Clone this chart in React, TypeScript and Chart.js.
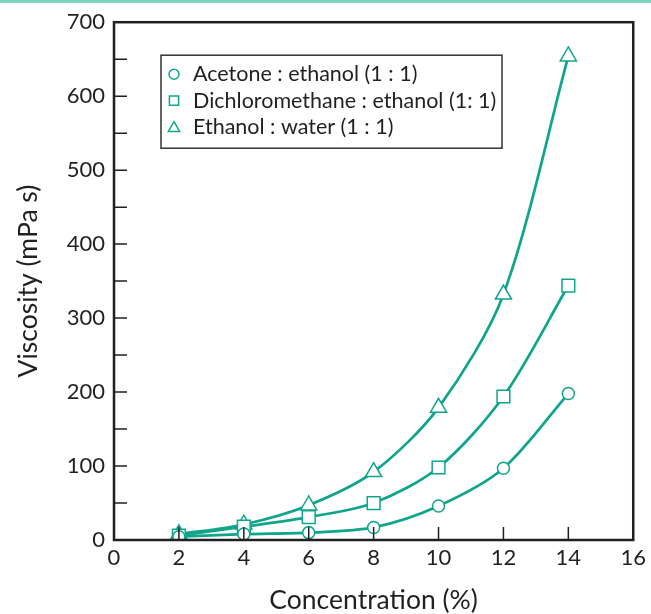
import React, { useEffect, useRef } from "react";
import { Chart, registerables } from "chart.js";

Chart.register(...registerables);

const concentrations = [2, 4, 6, 8, 10, 12, 14];
const acetoneEthanol = [4.5, 8, 10, 17, 46, 97, 198];
const dichloromethaneEthanol = [6, 18, 31, 50, 98, 194, 344];
const ethanolWater = [8, 21, 47, 92, 179, 332, 654];

const seriesNames = [
  "Acetone : ethanol (1 : 1)",
  "Dichloromethane : ethanol (1: 1)",
  "Ethanol : water (1 : 1)",
];
const seriesShapes = ["circle", "rect", "triangle"];
const seriesRadii = [6, 9, 9.3];

const xTicks = [0, 2, 4, 6, 8, 10, 12, 14, 16];
const yLabelTicks = [0, 100, 200, 300, 400, 500, 600, 700];

const TEAL = "#0fa58a";
const INK = "#231f20";
const FONT = "Lato";

function drawMarker(ctx: CanvasRenderingContext2D, shape: string, x: number, y: number, r: number) {
  ctx.beginPath();
  if (shape === "circle") {
    ctx.arc(x, y, r, 0, Math.PI * 2);
  } else if (shape === "rect") {
    ctx.rect(x - r, y - r, 2 * r, 2 * r);
  } else {
    const h = r * 1.5;
    const w = r * Math.sqrt(3);
    ctx.moveTo(x, y - r);
    ctx.lineTo(x + w / 2, y - r + h);
    ctx.lineTo(x - w / 2, y - r + h);
    ctx.closePath();
  }
  ctx.fillStyle = "#fff";
  ctx.fill();
  ctx.stroke();
}

const framePlugin = {
  id: "frameTicksLegend",
  afterDatasetsDraw(chart: any) {
    const { ctx, chartArea } = chart;
    const { left, right, top, bottom } = chartArea;
    const xs = chart.scales.x;
    const ys = chart.scales.y;
    ctx.save();
    ctx.strokeStyle = INK;
    ctx.lineWidth = 2.5;
    ctx.strokeRect(left, top, right - left, bottom - top);
    ctx.lineWidth = 1.5;
    ctx.beginPath();
    for (let v = 50; v < 700; v += 50) {
      const py = ys.getPixelForValue(v);
      ctx.moveTo(left, py);
      ctx.lineTo(left + 13, py);
    }
    for (const v of xTicks) {
      if (v === 0 || v === 16) continue;
      const px = xs.getPixelForValue(v);
      ctx.moveTo(px, bottom);
      ctx.lineTo(px, bottom - 13);
    }
    ctx.stroke();

    // legend
    const bx = left + 47;
    const by = top + 33;
    const bw = 341;
    const bh = 93;
    ctx.lineWidth = 1.5;
    ctx.strokeStyle = "#333";
    ctx.fillStyle = "#fff";
    ctx.fillRect(bx, by, bw, bh);
    ctx.strokeRect(bx, by, bw, bh);
    const legendRadii = [5, 4.6, 6.5];
    for (let i = 0; i < seriesNames.length; i++) {
      const cy = by + 19 + i * 26.5;
      ctx.strokeStyle = TEAL;
      ctx.lineWidth = 1.5;
      drawMarker(ctx, seriesShapes[i], bx + 13, cy + (i === 2 ? 1 : 0), legendRadii[i]);
      ctx.fillStyle = INK;
      ctx.font = `21.5px ${FONT}`;
      ctx.textBaseline = "middle";
      ctx.textAlign = "left";
      ctx.fillText(seriesNames[i], bx + 32, cy);
    }
    ctx.restore();
  },
};

export default function App() {
  const canvasRef = useRef<HTMLCanvasElement | null>(null);

  useEffect(() => {
    if (!canvasRef.current) return;
    const seriesValues = [acetoneEthanol, dichloromethaneEthanol, ethanolWater];
    const chart = new Chart(canvasRef.current, {
      type: "line",
      data: {
        datasets: seriesValues.map((vals, i) => ({
          label: seriesNames[i],
          data: concentrations.map((c, j) => ({ x: c, y: vals[j] })),
          borderColor: TEAL,
          borderWidth: 2.7,
          backgroundColor: "#fff",
          pointStyle: seriesShapes[i] as any,
          pointRadius: seriesRadii[i],
          pointBorderWidth: 1.5,
          pointBackgroundColor: "#fff",
          pointBorderColor: TEAL,
          tension: 0.3,
          fill: false,
        })),
      },
      options: {
        animation: false,
        responsive: false,
        layout: { padding: { top: 20, right: 14, left: 0, bottom: 0 } },
        plugins: { legend: { display: false }, tooltip: { enabled: false } },
        scales: {
          x: {
            type: "linear",
            min: 0,
            max: 16,
            afterBuildTicks: (s: any) => {
              s.ticks = xTicks.map((v) => ({ value: v }));
            },
            afterFit: (s: any) => {
              s.height = 74;
            },
            grid: { display: false, drawTicks: false },
            border: { display: false },
            ticks: {
              font: { family: FONT, size: 22 },
              color: INK,
              padding: 5,
              maxRotation: 0,
              autoSkip: false,
            },
            title: {
              display: true,
              text: "Concentration (%)",
              font: { family: FONT, size: 26.5, lineHeight: 1 },
              color: INK,
              padding: { top: 0, bottom: 0 },
            },
          },
          y: {
            type: "linear",
            min: 0,
            max: 700,
            afterBuildTicks: (s: any) => {
              s.ticks = yLabelTicks.map((v) => ({ value: v }));
            },
            afterFit: (s: any) => {
              s.width = 114;
            },
            grid: { display: false, drawTicks: false },
            border: { display: false },
            ticks: {
              font: { family: FONT, size: 22 },
              color: INK,
              padding: 9,
              autoSkip: false,
            },
            title: {
              display: true,
              text: "Viscosity (mPa s)",
              font: { family: FONT, size: 26.5, lineHeight: 1 },
              color: INK,
              padding: { top: 15, bottom: 0 },
            },
          },
        },
      },
      plugins: [framePlugin],
    });
    return () => chart.destroy();
  }, []);

  return (
    <div style={{ position: "absolute", left: 0, top: 0, width: 651, height: 614, background: "#fff" }}>
      <div style={{ position: "absolute", left: 0, top: 0, width: 651, height: 3, background: "#7fd1c1" }} />
      <canvas ref={canvasRef} width={651} height={614} style={{ display: "block" }} />
    </div>
  );
}
